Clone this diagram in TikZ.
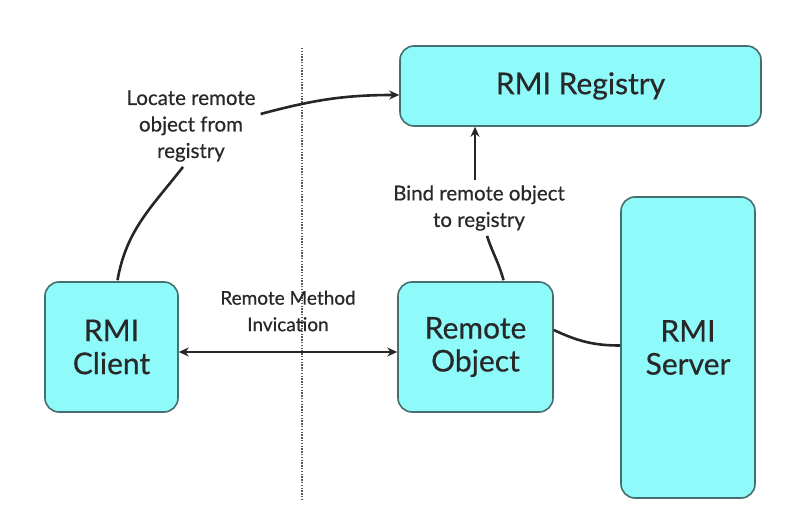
\documentclass[tikz,border=0pt]{standalone}
\usepackage{fontspec}
\setmainfont{Lato}[FakeBold=0.5]
\usetikzlibrary{arrows.meta,calc}
\definecolor{boxfill}{RGB}{142,250,250}
\definecolor{boxline}{RGB}{70,110,110}
\definecolor{txt}{RGB}{40,40,40}
\begin{document}
\begin{tikzpicture}[x=1pt,y=-1pt,
  box/.style={draw=boxline,line width=1.6pt,fill=boxfill,rounded corners=14pt,
    text=txt,font=\fontsize{30}{33}\selectfont,align=center,inner sep=0pt},
  lbl/.style={text=txt,font=\fontsize{20.5}{26.5}\selectfont,align=center,inner sep=1pt},
  conn/.style={draw=black!85,line width=2.6pt},
  tip/.style={-{Stealth[length=10pt,width=9pt]}}
]
\useasboundingbox (0,0) rectangle (794,510);
\fill[white] (0,0) rectangle (794,510);
% dotted divider
\coordinate (dtop) at (302,48);
\coordinate (dbot) at (302,500);
\draw[gray!70!black,line width=1.6pt,dash pattern=on 1.4pt off 1.4pt] (dtop) -- (dbot);
% boxes
\node[box,minimum width=361pt,minimum height=80pt] (reg) at (580.5,86) {RMI Registry};
\node[box,minimum width=133pt,minimum height=130pt] (cli) at (111.5,347) {RMI\\Client};
\node[box,minimum width=155pt,minimum height=130pt] (obj) at (475.5,347) {Remote\\Object};
\node[box,minimum width=134pt,minimum height=301pt] (srv) at (688,347.5) {RMI\\Server};
% labels
\node[lbl] (loc) at (191,126) {Locate remote\\object from\\registry};
\node[lbl] (bind) at (479,208) {Bind remote object\\to registry};
\node[lbl,font=\fontsize{19}{26.5}\selectfont] (rmi) at (288,311) {Remote Method\\Invication};
% connectors
\draw[conn] ($(cli.north)+(6,-1)$) to[out=80,in=-128] ($(loc.south)+(-8,4)$);
\draw[conn,tip] ($(loc.east)+(4,-12)$) to[out=15,in=180] ($(reg.west)+(0,9)$);
\draw[conn,{Stealth[length=10pt,width=9pt]}-{Stealth[length=10pt,width=9pt]}] ($(cli.east)+(0,5)$) -- ($(obj.west)+(0,5)$);
\draw[conn] ($(obj.north)+(28,-1)$) to[out=105,in=-72] ($(bind.south)+(8,4)$);
\draw[conn,tip] ($(bind.north)+(-4,-4)$) -- ($(reg.south)+(-105.5,0)$);
\draw[conn] ($(obj.east)+(0,-17)$) to[out=-25,in=180] ($(srv.west)+(0,-2)$);
\end{tikzpicture}
\end{document}
